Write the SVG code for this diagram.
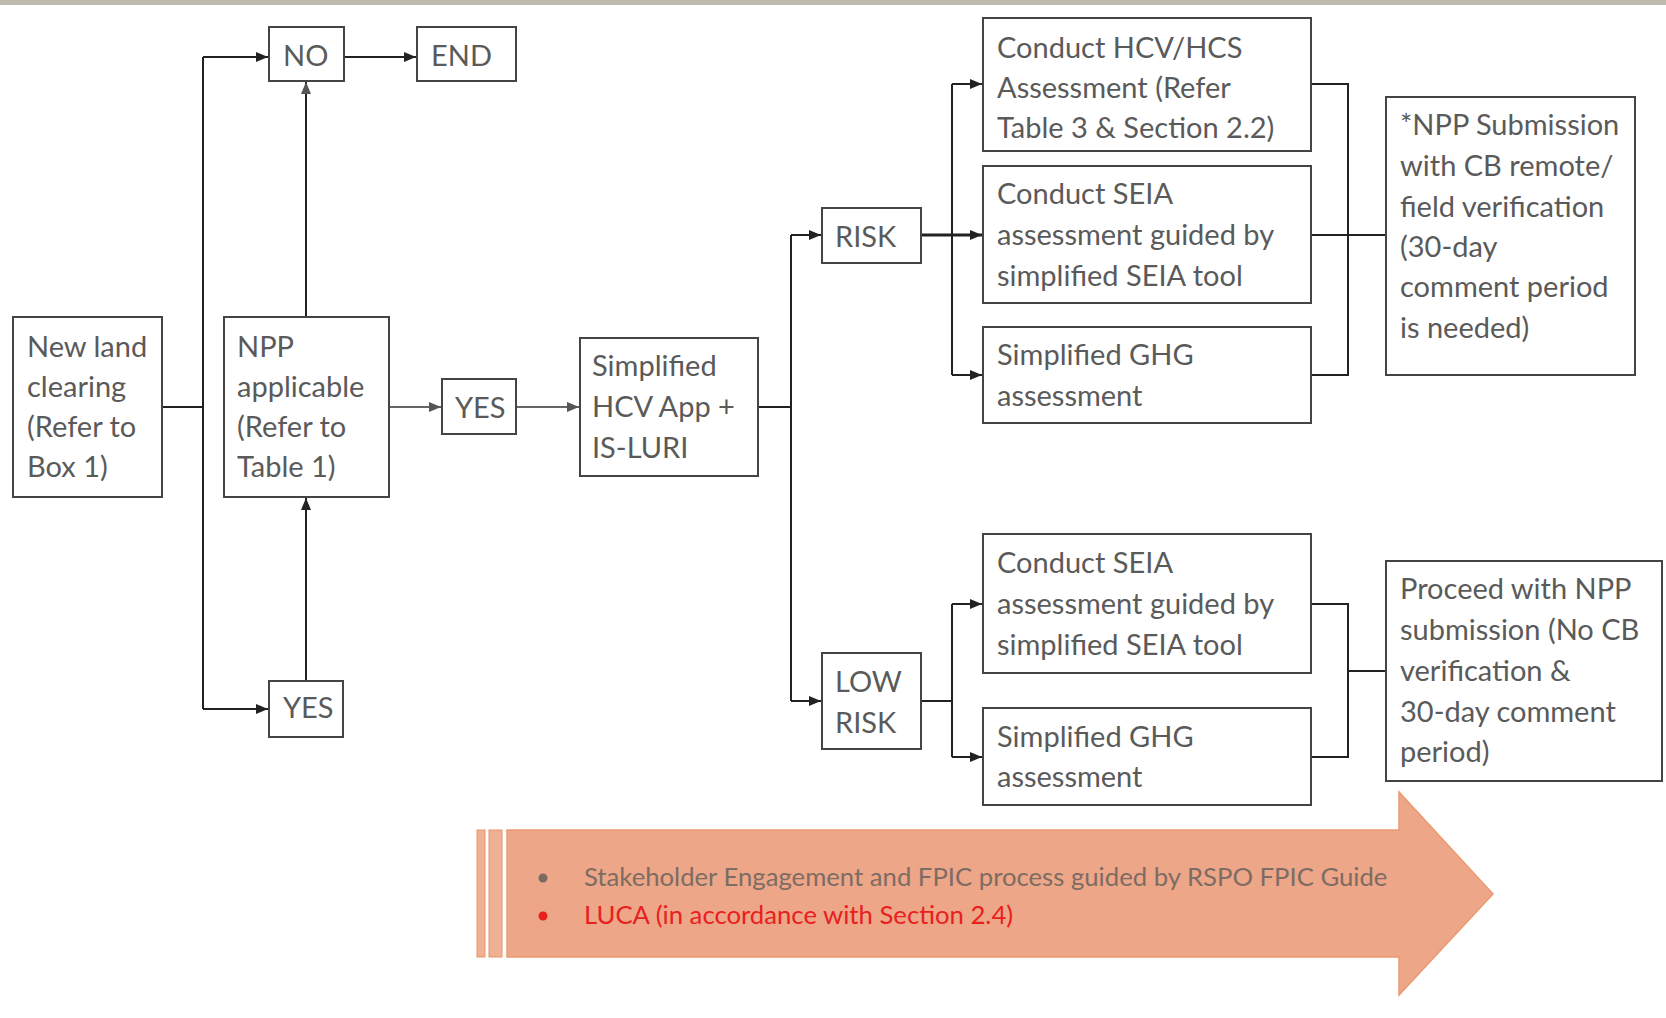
<svg xmlns="http://www.w3.org/2000/svg" width="1666" height="1018" viewBox="0 0 1666 1018">
<defs>
<style>
.box{fill:#fff;stroke:#444;stroke-width:2}
.t{font-family:Lato,"Open Sans","Liberation Sans",sans-serif;font-size:29px;fill:#5a5a5a}
.c{fill:none;stroke:#222;stroke-width:2}
.g{fill:none;stroke:#666;stroke-width:2}
.band{font-family:Lato,"Open Sans","Liberation Sans",sans-serif;font-size:25.7px}
</style>
<marker id="ah" markerUnits="userSpaceOnUse" markerWidth="12" markerHeight="10" refX="12" refY="5" orient="auto">
<path d="M0,0 L12,5 L0,10 Z" fill="#222"/>
</marker>
<marker id="ahg" markerUnits="userSpaceOnUse" markerWidth="12" markerHeight="10" refX="12" refY="5" orient="auto">
<path d="M0,0 L12,5 L0,10 Z" fill="#555"/>
</marker>
</defs>
<rect x="0" y="0" width="1666" height="1018" fill="#fff"/>
<rect x="0" y="0" width="1666" height="5" fill="#bdbab0"/>

<g id="connectors">
<path class="c" d="M162,407 H203"/>
<path class="c" d="M203,57 V709"/>
<path class="c" d="M203,57 H268" marker-end="url(#ah)"/>
<path class="c" d="M203,709 H268" marker-end="url(#ah)"/>
<path class="c" d="M344,57 H416" marker-end="url(#ah)"/>
<path class="c" d="M306,317 V82" marker-end="url(#ahg)"/>
<path class="c" d="M306,681 V498" marker-end="url(#ah)"/>
<path class="g" d="M389,407 H441" marker-end="url(#ahg)"/>
<path class="g" d="M516,407 H579" marker-end="url(#ahg)"/>
<path class="c" d="M758,407 H791"/>
<path class="c" d="M791,235 V701"/>
<path class="c" d="M791,235 H821" marker-end="url(#ah)"/>
<path class="c" d="M791,701 H821" marker-end="url(#ah)"/>
<path class="c" d="M921,235 H982" marker-end="url(#ah)" style="stroke-width:3"/>
<path class="c" d="M952,84 V375"/>
<path class="c" d="M952,84 H982" marker-end="url(#ah)"/>
<path class="c" d="M952,375 H982" marker-end="url(#ah)"/>
<path class="c" d="M921,701 H952"/>
<path class="c" d="M952,604 V757"/>
<path class="c" d="M952,604 H982" marker-end="url(#ah)"/>
<path class="c" d="M952,757 H982" marker-end="url(#ah)"/>
<path class="c" d="M1311,84 H1348 V375 H1311"/>
<path class="c" d="M1311,235 H1386"/>
<path class="c" d="M1311,604 H1348 V757 H1311"/>
<path class="c" d="M1348,671 H1386"/>
</g>

<g id="n-newland"><rect class="box" x="13" y="317" width="149" height="180"/>
<text class="t" x="27"><tspan x="27" y="357">New land</tspan><tspan x="27" y="397">clearing</tspan><tspan x="27" y="437">(Refer to</tspan><tspan x="27" y="477">Box 1)</tspan></text></g>

<g id="n-npp"><rect class="box" x="224" y="317" width="165" height="180"/>
<text class="t"><tspan x="237" y="357">NPP</tspan><tspan x="237" y="397">applicable</tspan><tspan x="237" y="437">(Refer to</tspan><tspan x="237" y="477">Table 1)</tspan></text></g>

<g id="n-no"><rect class="box" x="269" y="27" width="75" height="54"/>
<text class="t" x="283" y="66">NO</text></g>

<g id="n-end"><rect class="box" x="417" y="27" width="99" height="54"/>
<text class="t" x="431" y="66">END</text></g>

<g id="n-yes1"><rect class="box" x="442" y="379" width="74" height="55"/>
<text class="t" x="455" y="418">YES</text></g>

<g id="n-yes2"><rect class="box" x="269" y="681" width="74" height="56"/>
<text class="t" x="283" y="718">YES</text></g>

<g id="n-simplified"><rect class="box" x="580" y="338" width="178" height="138"/>
<text class="t"><tspan x="592" y="376">Simplified</tspan><tspan x="592" y="417">HCV App +</tspan><tspan x="592" y="458">IS-LURI</tspan></text></g>

<g id="n-risk"><rect class="box" x="822" y="208" width="99" height="55"/>
<text class="t" x="835" y="247">RISK</text></g>

<g id="n-lowrisk"><rect class="box" x="822" y="653" width="99" height="96"/>
<text class="t"><tspan x="835" y="692">LOW</tspan><tspan x="835" y="733">RISK</tspan></text></g>

<g id="n-hcv"><rect class="box" x="983" y="18" width="328" height="133"/>
<text class="t"><tspan x="997" y="58">Conduct HCV/HCS</tspan><tspan x="997" y="98">Assessment (Refer</tspan><tspan x="997" y="138">Table 3 &amp; Section 2.2)</tspan></text></g>

<g id="n-seia1"><rect class="box" x="983" y="166" width="328" height="137"/>
<text class="t"><tspan x="997" y="204">Conduct SEIA</tspan><tspan x="997" y="245">assessment guided by</tspan><tspan x="997" y="286">simplified SEIA tool</tspan></text></g>

<g id="n-ghg1"><rect class="box" x="983" y="327" width="328" height="96"/>
<text class="t"><tspan x="997" y="365">Simplified GHG</tspan><tspan x="997" y="406">assessment</tspan></text></g>

<g id="n-nppsub"><rect class="box" x="1386" y="97" width="249" height="278"/>
<text class="t"><tspan x="1400" y="135">*NPP Submission</tspan><tspan x="1400" y="176">with CB remote/</tspan><tspan x="1400" y="217">field verification</tspan><tspan x="1400" y="257">(30-day</tspan><tspan x="1400" y="297">comment period</tspan><tspan x="1400" y="338">is needed)</tspan></text></g>

<g id="n-seia2"><rect class="box" x="983" y="534" width="328" height="139"/>
<text class="t"><tspan x="997" y="573">Conduct SEIA</tspan><tspan x="997" y="614">assessment guided by</tspan><tspan x="997" y="655">simplified SEIA tool</tspan></text></g>

<g id="n-ghg2"><rect class="box" x="983" y="708" width="328" height="97"/>
<text class="t"><tspan x="997" y="747">Simplified GHG</tspan><tspan x="997" y="787">assessment</tspan></text></g>

<g id="n-proceed"><rect class="box" x="1386" y="561" width="276" height="220"/>
<text class="t"><tspan x="1400" y="599">Proceed with NPP</tspan><tspan x="1400" y="640">submission (No CB</tspan><tspan x="1400" y="681">verification &amp;</tspan><tspan x="1400" y="722">30-day comment</tspan><tspan x="1400" y="762">period)</tspan></text></g>

<g id="n-band">
<rect x="477" y="830" width="8" height="127" fill="#f0b094" stroke="#e8946a" stroke-width="1"/>
<rect x="489" y="830" width="13" height="127" fill="#f0b094" stroke="#e8946a" stroke-width="1"/>
<path d="M507,830 H1399 V792 L1493,894 L1399,995 V957 H507 Z" fill="#eda687" stroke="#eb9a72" stroke-width="1.5"/>
<circle cx="543" cy="878" r="4.5" fill="#7a6a60"/>
<circle cx="543" cy="916" r="4.5" fill="#e8201e"/>
<text class="band" x="584" y="886" fill="#7d6c64">Stakeholder Engagement and FPIC process guided by RSPO FPIC Guide</text>
<text class="band" x="584" y="924" fill="#e8201e">LUCA (in accordance with Section 2.4)</text>
</g>
</svg>
